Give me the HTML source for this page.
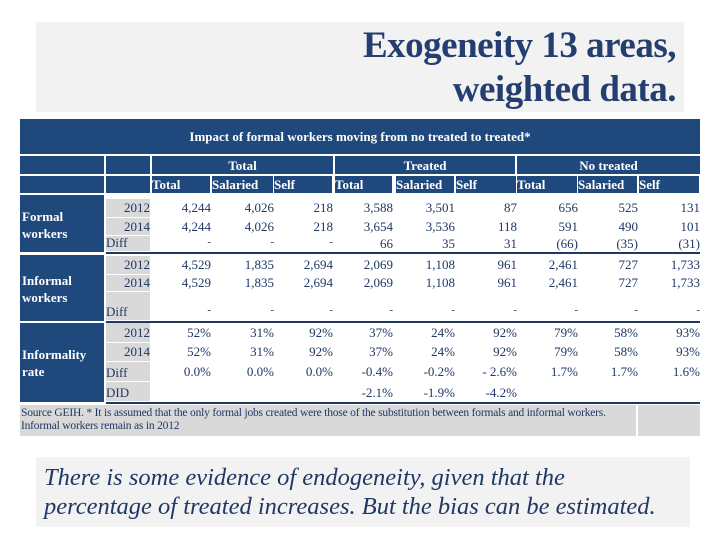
<!DOCTYPE html>
<html><head><meta charset="utf-8"><style>
body{margin:0;width:720px;height:540px;background:#fff;position:relative;overflow:hidden;font-family:"Liberation Serif",serif;}
.a{position:absolute;}
.blue{background:#1f497d;color:#fff;}
.t{font-size:13px;color:#1f3864;white-space:nowrap;}
</style></head><body>
<div class="a" style="left:36px;top:22px;width:648px;height:90px;background:#f2f2f2;"></div>
<div class="a" style="right:44px;top:24px;text-align:right;font-size:37px;font-weight:bold;line-height:44px;color:#243f6f;letter-spacing:-0.5px;">Exogeneity 13 areas,<br>weighted data.</div>

<div class="a blue" style="left:20px;top:119px;width:680px;height:35px;"></div>
<div class="a" style="left:20px;top:129px;width:680px;text-align:center;color:#fff;font-size:13px;font-weight:bold;">Impact of formal workers moving from no treated to treated*</div>

<div class="a blue" style="left:20px;top:156px;width:84px;height:18px;"></div>
<div class="a blue" style="left:106px;top:156px;width:44px;height:18px;"></div>
<div class="a blue" style="left:20px;top:176px;width:84px;height:17px;"></div>
<div class="a blue" style="left:106px;top:176px;width:44px;height:17px;"></div>
<div class="a blue" style="left:152px;top:156px;width:181px;height:18px;text-align:center;font-size:13px;font-weight:bold;line-height:19px;">Total</div>
<div class="a blue" style="left:335px;top:156px;width:180px;height:18px;text-align:center;font-size:13px;font-weight:bold;line-height:19px;">Treated</div>
<div class="a blue" style="left:517px;top:156px;width:183px;height:18px;text-align:center;font-size:13px;font-weight:bold;line-height:19px;">No treated</div>

<div class="a blue" style="left:20px;top:195px;width:84px;height:57px;"></div>
<div class="a blue" style="left:20px;top:255px;width:84px;height:66px;"></div>
<div class="a blue" style="left:20px;top:323px;width:84px;height:79px;"></div>
<div class="a" style="left:22px;top:208px;color:#fff;font-size:13px;font-weight:bold;line-height:17px;">Formal<br>workers</div>
<div class="a" style="left:22px;top:272px;color:#fff;font-size:13px;font-weight:bold;line-height:17px;">Informal<br>workers</div>
<div class="a" style="left:22px;top:346px;color:#fff;font-size:13px;font-weight:bold;line-height:17px;">Informality<br>rate</div>

<div class="a" style="left:106px;top:252px;width:594px;height:2px;background:#1f3864;"></div>
<div class="a" style="left:106px;top:321px;width:594px;height:2px;background:#1f3864;"></div>
<div class="a" style="left:106px;top:402px;width:594px;height:2px;background:#1f3864;"></div>

<div class="a" style="left:20px;top:405px;width:616px;height:31px;background:#d9d9d9;"></div>
<div class="a" style="left:638px;top:405px;width:62px;height:31px;background:#d9d9d9;"></div>
<div class="a" style="left:21px;top:407px;font-size:11.5px;line-height:13px;color:#1f3864;letter-spacing:-0.2px;">Source GEIH. * It is assumed that the only formal jobs created were those of the substitution between formals and informal workers.<br>Informal workers remain as in 2012</div>

<div class="a" style="left:36px;top:457px;width:654px;height:70px;background:#f2f2f2;"></div>
<div class="a" style="left:44px;top:463px;font-size:24.5px;font-style:italic;line-height:29px;color:#1f3864;white-space:nowrap;">There is some evidence of endogeneity, given that the<br>percentage of treated increases. But the bias can be estimated.</div>

<div id="grid"></div>
<script>
const subHeads=["Total","Salaried","Self","Total","Salaried","Self","Total","Salaried","Self"];
const rowLabels=["2012","2014","Diff","2012","2014","Diff","2012","2014","Diff","DID"];
const rowTops=[199,218,236,256,275,292,323,343,362,382];
const rowHeights=[18,17,15,18,16,28,19,18,19,19];
const formal2012=["4,244","4,026","218","3,588","3,501","87","656","525","131"];
const formal2014=["4,244","4,026","218","3,654","3,536","118","591","490","101"];
const formalDiff=["-","-","-","66","35","31","(66)","(35)","(31)"];
const inf2012=["4,529","1,835","2,694","2,069","1,108","961","2,461","727","1,733"];
const inf2014=["4,529","1,835","2,694","2,069","1,108","961","2,461","727","1,733"];
const infDiff=["-","-","-","-","-","-","-","-","-"];
const rate2012=["52%","31%","92%","37%","24%","92%","79%","58%","93%"];
const rate2014=["52%","31%","92%","37%","24%","92%","79%","58%","93%"];
const rateDiff=["0.0%","0.0%","0.0%","-0.4%","-0.2%","- 2.6%","1.7%","1.7%","1.6%"];
const did=["","","","-2.1%","-1.9%","-4.2%","","",""];
const rows=[formal2012,formal2014,formalDiff,inf2012,inf2014,infDiff,rate2012,rate2014,rateDiff,did];
const colRight=[211,274,333,393,455,517,578,638,700];
const colLeft=[152,212,274,335,396,456,517,578,639];
const g=document.getElementById('grid');
subHeads.forEach((h,i)=>{
  const d=document.createElement('div');
  d.className='a blue';
  
  
  d.style.cssText=`left:${colLeft[i]}px;top:176px;width:${colRight[i]-colLeft[i]-1}px;height:17px;font-size:13px;font-weight:bold;line-height:18px;`;
  d.textContent=h;g.appendChild(d);
});
rowLabels.forEach((l,r)=>{
  const d=document.createElement('div');
  d.className='a t';
  
  
  const isYear=/\d/.test(l);
  d.style.cssText=`left:106px;top:${rowTops[r]}px;width:44px;height:${rowHeights[r]}px;background:#d9d9d9;display:flex;align-items:${isYear?'center':'flex-end'};justify-content:${isYear?'flex-end':'flex-start'};`;
  d.textContent=l;g.appendChild(d);
  rows[r].forEach((v,c)=>{
    const e=document.createElement('div');
    e.className='a t';
    
    
    const dash=v==='-';
    let top=rowTops[r]+(rowHeights[r]-16)/2;
    if(r===5) top=rowTops[r]+12;
    if(r===9) top=rowTops[r]+3;
    e.style.cssText=`top:${top}px;right:${720-colRight[c]}px;font-size:${dash?11:13}px;`;
    e.textContent=v;g.appendChild(e);
  });
});
</script>
</body></html>
